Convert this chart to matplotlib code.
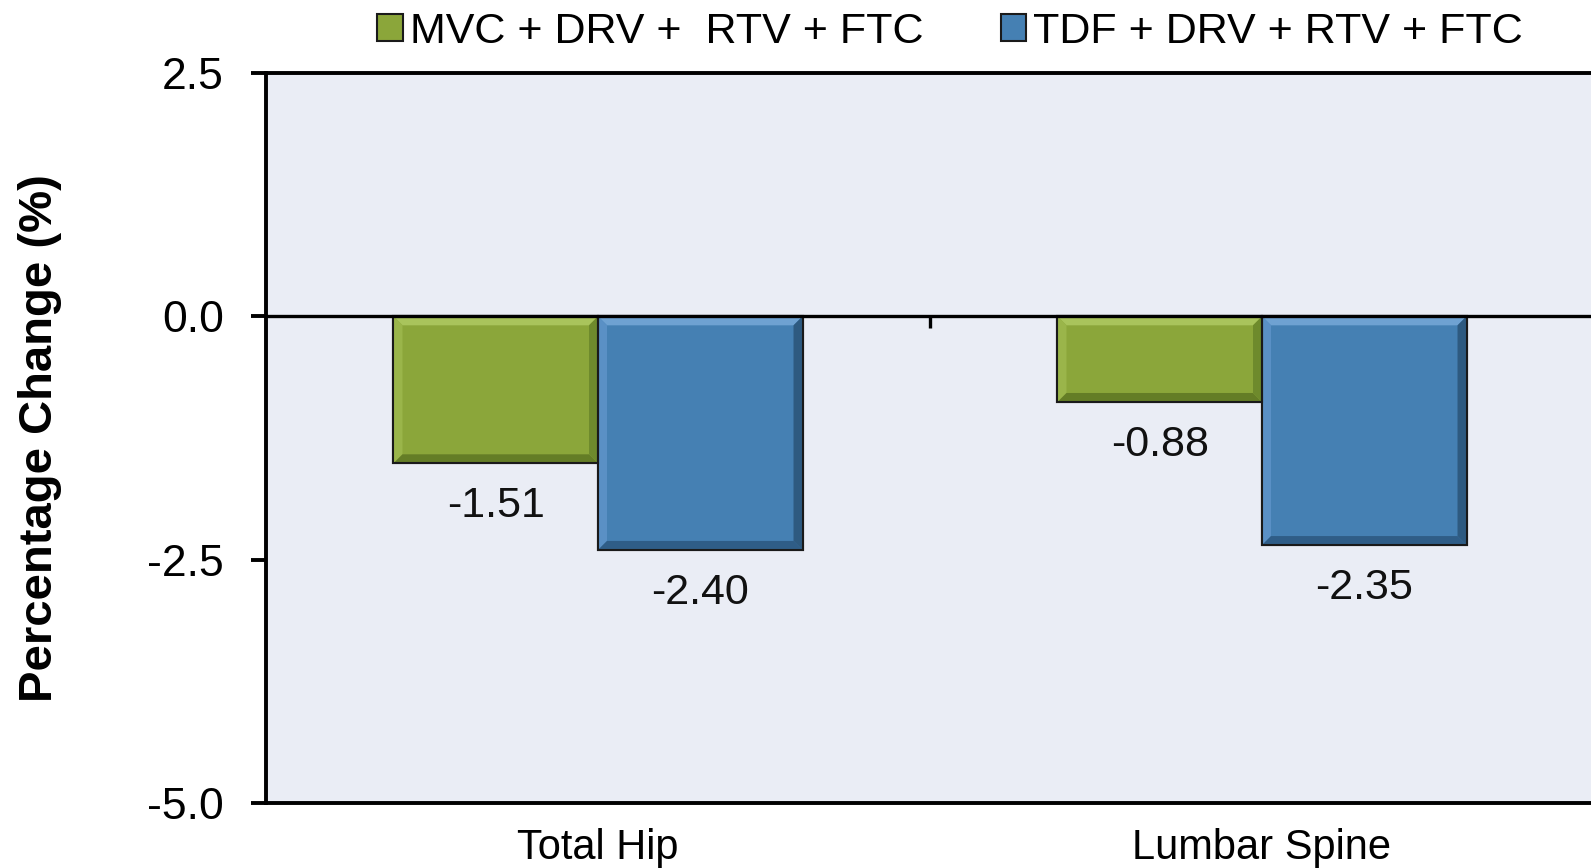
import matplotlib
matplotlib.use("Agg")
import matplotlib.pyplot as plt
from matplotlib.patches import Polygon
import numpy as np

plt.rcParams['font.family'] = ['Liberation Sans', 'DejaVu Sans']

categories = ["Total Hip", "Lumbar Spine"]
series_names = ["MVC + DRV +  RTV + FTC", "TDF + DRV + RTV + FTC"]
mvc_values = [-1.51, -0.88]
tdf_values = [-2.40, -2.35]
value_labels_mvc = ["-1.51", "-0.88"]
value_labels_tdf = ["-2.40", "-2.35"]
yticks = [2.5, 0.0, -2.5, -5.0]
ytick_labels = ["2.5", "0.0", "-2.5", "-5.0"]
boundaries = [0.5]

green = "#8BA63A"
blue = "#4580B3"
bg = "#EAEDF5"
bevel = {
    green: ("#A9C45C", "#9AB54A", "#647D26", "#6E8A2C"),
    blue: ("#6FA2D2", "#5A90C5", "#2F5D87", "#2E5A80"),
}

fig = plt.figure(figsize=(15.91, 8.68), dpi=100)
ax = fig.add_axes([266/1591, 1-803/868, 1328/1591, 730/868])
ax.set_facecolor(bg)
ax.set_xlim(-0.5, 1.5)
ax.set_ylim(-5.0, 2.5)

x = np.arange(len(categories))
w = 0.308
b1 = ax.bar(x - w/2, mvc_values, w, color=green, edgecolor="#1a1a1a", linewidth=1.5, zorder=2, label=series_names[0])
b2 = ax.bar(x + w/2, tdf_values, w, color=blue, edgecolor="#1a1a1a", linewidth=1.5, zorder=2, label=series_names[1])

# bevel decoration (approx. 9 px wide), derived from each bar's geometry
inv = ax.transData.inverted()
p0 = inv.transform((0, 0))
p1 = inv.transform((9, 9))
bx, by = p1[0] - p0[0], p1[1] - p0[1]
for bars, col in ((b1, green), (b2, blue)):
    top_c, left_c, bot_c, right_c = bevel[col]
    for r in bars:
        x0, x1 = r.get_x(), r.get_x() + r.get_width()
        yt, yb = 0.0, r.get_height()
        quads = [
            ([(x0, yt), (x1, yt), (x1 - bx, yt - by), (x0 + bx, yt - by)], top_c),
            ([(x0, yt), (x0 + bx, yt - by), (x0 + bx, yb + by), (x0, yb)], left_c),
            ([(x0, yb), (x0 + bx, yb + by), (x1 - bx, yb + by), (x1, yb)], bot_c),
            ([(x1, yt), (x1 - bx, yt - by), (x1 - bx, yb + by), (x1, yb)], right_c),
        ]
        for pts, c in quads:
            ax.add_patch(Polygon(pts, closed=True, facecolor=c, edgecolor="none", zorder=2.1))
        ax.add_patch(plt.Rectangle((x0, yb), x1 - x0, yt - yb, fill=False,
                                   edgecolor="#1a1a1a", linewidth=1.5, zorder=2.2))

ax.axhline(0, color="black", lw=2.4, zorder=3)
ax.vlines(boundaries, 0, -0.12, color="black", lw=2.4, zorder=3)

for bars, labs in ((b1, value_labels_mvc), (b2, value_labels_tdf)):
    for r, t in zip(bars, labs):
        ax.annotate(t, xy=(r.get_x() + r.get_width()/2, r.get_height()),
                    xytext=(0, -31), textcoords="offset points",
                    ha="center", va="center", fontsize=31, color="#111111")

ax.set_yticks(yticks)
ax.set_yticklabels(ytick_labels, fontsize=32)
ax.set_xticks(x)
ax.set_xticklabels(categories, fontsize=30)
ax.tick_params(axis='x', length=0, pad=18)
ax.tick_params(axis='y', length=10.5, width=2.8, pad=20, direction='out')

for s in ("left", "top", "bottom"):
    ax.spines[s].set_linewidth(2.8)
    ax.spines[s].set_color("black")
ax.spines["right"].set_visible(False)

ax.set_ylabel("Percentage Change (%)", fontsize=34, fontweight="bold")
ax.yaxis.set_label_coords((62 - 266) / 1328, 0.5)

leg = fig.legend(handles=[b1, b2], labels=series_names, loc="center",
                 bbox_to_anchor=(950/1591, 1 - 32/868), ncol=2, frameon=False,
                 fontsize=31, handlelength=0.6, handleheight=0.6,
                 handletextpad=0.16, columnspacing=1.8)

fig.savefig("out.png", dpi=100)
